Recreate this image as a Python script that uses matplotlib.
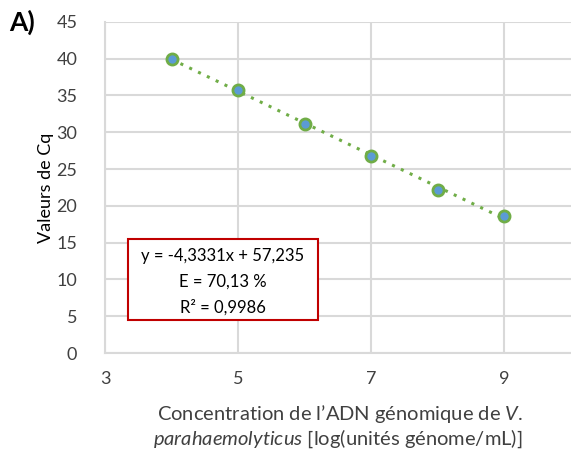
import numpy as np
import matplotlib
matplotlib.use("Agg")
import matplotlib.pyplot as plt
from matplotlib.patches import Rectangle

plt.rcParams["font.family"] = ["Lato", "DejaVu Sans"]
plt.rcParams["mathtext.fontset"] = "custom"
plt.rcParams["mathtext.it"] = "Lato:italic"
plt.rcParams["mathtext.rm"] = "Lato"

# données
log_conc = [4, 5, 6, 7, 8, 9]
cq = [40.0, 35.7, 31.1, 26.8, 22.1, 18.6]
slope = -4.3331
intercept = 57.235
eq_lines = ["y = -4,3331x + 57,235", "E = 70,13 %", "R² = 0,9986"]
x_ticks = [3, 5, 7, 9]
y_ticks = list(range(0, 50, 5))

grid_col = "#d9d9d9"
txt_col = "#404040"

fig = plt.figure(figsize=(5.71, 4.55), dpi=100)
ax = fig.add_axes([0.184, 0.224, 0.816, 0.728])

x = np.array(log_conc)
ax.plot(x, slope * x + intercept, linestyle=(0, (1, 2.2)), color="#70ad47",
        linewidth=2.2, zorder=2)
ax.plot(log_conc, cq, "o", markersize=8, markerfacecolor="#5b9bd5",
        markeredgecolor="#70ad47", markeredgewidth=2, zorder=3)

ax.set_xlim(3, 10)
ax.set_ylim(0, 45)
ax.set_xticks(x_ticks)
ax.set_yticks(y_ticks)
ax.grid(True, color=grid_col, linewidth=1.5)
ax.set_axisbelow(True)
for s in ["top", "right"]:
    ax.spines[s].set_visible(False)
for s in ["left", "bottom"]:
    ax.spines[s].set_color(grid_col)
    ax.spines[s].set_linewidth(1.5)
ax.tick_params(length=0, labelsize=13, colors=txt_col)
ax.tick_params(axis="x", pad=13)
ax.tick_params(axis="y", pad=20)

ax.set_ylabel("Valeurs de Cq", fontsize=13, color="black", labelpad=2)

fig.text(0.595, 0.090, r"Concentration de l’ADN génomique de $\it{V.}$",
         ha="center", va="center", fontsize=14.5, color=txt_col)
fig.text(0.592, 0.036, r"$\it{parahaemolyticus}$ [log(unités génome/mL)]",
         ha="center", va="center", fontsize=14.5, color=txt_col)

fig.text(0.016, 0.950, "A)", fontsize=19, fontweight="bold", va="center")

ax.add_patch(Rectangle((3.345, 4.5), 2.85, 11.0, fill=True, facecolor="white",
                       edgecolor="#c00000", linewidth=1.5, zorder=4))
for i, line in enumerate(eq_lines):
    ax.text(4.77, 13.2 - i * 3.5, line, ha="center", va="center",
            fontsize=12, color="black", zorder=5)

fig.savefig("out.png", dpi=100)
